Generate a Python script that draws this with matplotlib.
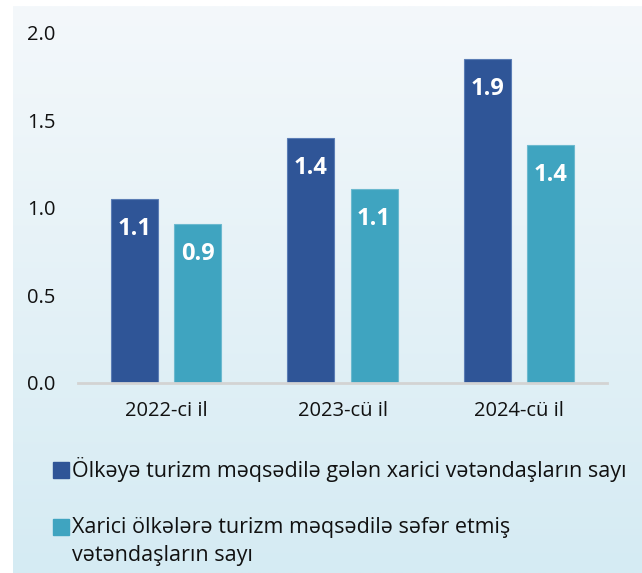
import numpy as np
import matplotlib.pyplot as plt
from matplotlib.patches import Rectangle

plt.rcParams["font.family"] = ["Open Sans", "DejaVu Sans"]

# data
years = ["2022-ci il", "2023-cü il", "2024-cü il"]
series_names = [
    "Ölkəyə turizm məqsədilə gələn xarici vətəndaşların sayı",
    "Xarici ölkələrə turizm məqsədilə səfər etmiş\nvətəndaşların sayı",
]
inbound = [1.05, 1.40, 1.85]
outbound = [0.91, 1.11, 1.36]
inbound_labels = ["1.1", "1.4", "1.9"]
outbound_labels = ["0.9", "1.1", "1.4"]
colors = ["#2F5597", "#3FA4C0"]

W, H = 642, 573
fig = plt.figure(figsize=(W / 100, H / 100), dpi=100)

# gradient background panel
bg = fig.add_axes([13 / W, 0, 1 - 13 / W, (H - 6) / H], zorder=0)
grad = np.linspace(0, 1, 256).reshape(-1, 1)
top = np.array([0xF4, 0xF8, 0xFB]) / 255
bot = np.array([0xD5, 0xEB, 0xF3]) / 255
img = top + (bot - top) * grad[:, :, None]
bg.imshow(img, aspect="auto", extent=[0, 1, 0, 1])
bg.axis("off")

ax = fig.add_axes([78 / W, 190 / H, (607 - 78) / W, (383 - 33) / H], zorder=1)
ax.patch.set_alpha(0)

x = np.arange(len(years))
bw = 0.267
off = 0.179
b1 = ax.bar(x - off, inbound, bw, color=colors[0], edgecolor="#5B7DB5", linewidth=0.8)
b2 = ax.bar(x + off, outbound, bw, color=colors[1], edgecolor="#6CB9CF", linewidth=0.8)

for bars, labels in ((b1, inbound_labels), (b2, outbound_labels)):
    for r, lab in zip(bars, labels):
        ax.annotate(lab, (r.get_x() + r.get_width() / 2, r.get_height()),
                    xytext=(0, -21.6), textcoords="offset points",
                    ha="center", va="center", color="white",
                    fontsize=17, fontweight="bold")

ax.set_xlim(-0.5, 2.5)
ax.set_ylim(0, 2.0)
ax.set_yticks([0, 0.5, 1.0, 1.5, 2.0])
ax.set_yticklabels(["0.0", "0.5", "1.0", "1.5", "2.0"])
ax.set_xticks(x)
ax.set_xticklabels(years)
ax.tick_params(axis="y", length=0, pad=16, labelsize=14.5, labelcolor="#111111")
ax.tick_params(axis="x", length=0, pad=13, labelsize=14.5, labelcolor="#111111")
for s in ("top", "right", "left"):
    ax.spines[s].set_visible(False)
ax.spines["bottom"].set_color("#D3D3D3")
ax.spines["bottom"].set_linewidth(2)

# legend
legend_y = [470, 527]
for name, c, ly in zip(series_names, colors, legend_y):
    fig.add_artist(Rectangle((53 / W, (H - ly - 8) / H), 16 / W, 16 / H,
                             transform=fig.transFigure, color=c))
    first = name.split("\n")[0]
    fig.text(72 / W, (H - ly) / H, first, ha="left", va="center",
             fontsize=15.5, color="#111111")
    for i, extra in enumerate(name.split("\n")[1:], start=1):
        fig.text(72 / W, (H - ly - 28 * i) / H, extra, ha="left", va="center",
                 fontsize=15.5, color="#111111")

fig.savefig("out.png", dpi=100)
